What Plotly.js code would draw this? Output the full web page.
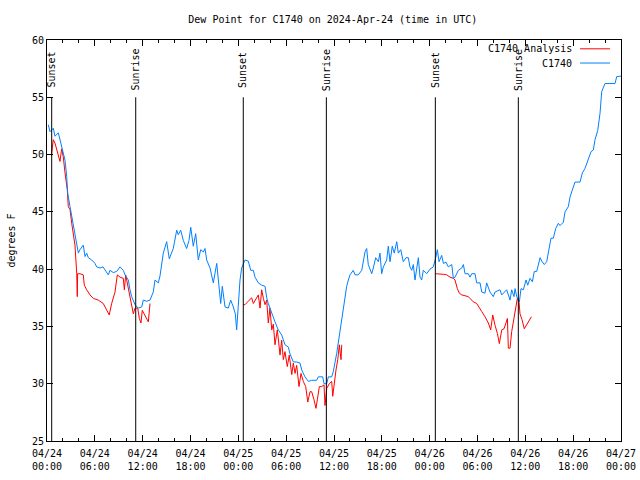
<!DOCTYPE html>
<html>
<head>
<meta charset="utf-8">
<script src="https://cdn.plot.ly/plotly-3.0.1.min.js"></script>
<style>html,body{margin:0;padding:0;background:#fff;}#chart{width:640px;height:480px;}</style>
</head>
<body>
<div id="chart"></div>
<script>
// Hours after 2024-04-24 00:00 UTC
const hoursBlue = [0.16,0.38,0.79,1.00,1.42,1.63,2.04,2.26,2.47,2.60,2.89,3.10,3.30,3.51,3.73,3.93,4.14,4.55,4.77,4.98,5.18,5.61,6.02,6.23,6.65,7.02,7.69,7.90,8.32,8.74,9.16,9.57,9.78,10.20,10.41,10.62,11.04,11.45,11.88,12.08,12.51,12.92,13.33,13.55,13.96,14.17,14.59,15.01,15.34,15.64,15.84,16.27,16.47,16.77,17.10,17.52,17.81,18.03,18.35,18.65,18.98,19.28,19.61,19.82,20.03,20.45,20.86,21.29,21.49,21.79,21.99,22.33,22.74,23.04,23.37,23.62,23.79,23.99,24.21,24.42,24.62,24.84,25.25,25.55,25.88,26.09,26.51,26.93,27.35,27.56,27.76,28.19,28.60,29.01,29.44,29.85,30.27,30.48,30.90,31.32,31.74,31.95,32.36,32.78,33.20,33.83,34.03,34.58,34.75,35.09,35.29,35.71,35.91,36.34,36.54,36.75,36.97,37.17,37.38,37.59,37.80,38.01,38.42,38.64,39.05,39.48,39.89,40.10,40.30,40.73,40.93,41.23,41.56,41.77,41.98,42.19,42.61,42.81,43.03,43.31,43.56,43.87,44.07,44.37,44.69,45.03,45.32,45.53,45.75,45.95,46.16,46.37,46.58,46.79,47.00,47.20,47.63,48.04,48.46,48.76,48.96,49.18,49.51,49.72,50.05,50.34,50.77,50.97,51.18,51.60,52.03,52.23,52.44,52.85,53.06,53.28,53.69,53.90,54.32,54.53,54.94,55.15,55.57,55.98,56.20,56.82,57.04,57.66,57.86,58.08,58.29,58.58,58.71,58.92,59.25,59.46,59.75,60.09,60.30,60.59,60.88,61.13,61.43,61.85,62.06,62.38,62.68,62.89,63.22,63.51,63.81,64.14,64.35,64.77,64.98,65.39,65.61,65.89,66.23,66.86,67.15,67.49,67.90,68.24,68.53,68.74,69.08,69.37,69.58,69.99,71.25,71.46,72.00];
const dewBlue = [52.6,52.0,52.3,51.6,51.9,51.3,50.25,49.5,48.1,46.6,45.45,44.6,44.0,42.8,42.0,41.4,41.7,42.1,41.1,41.4,41.0,40.8,40.5,40.2,40.1,40.2,39.5,39.9,39.7,39.8,40.2,39.9,39.5,39.05,38.2,37.6,36.9,36.6,36.7,37.3,37.2,37.3,38.0,39.05,38.8,39.4,41.4,42.4,40.9,41.4,41.8,43.4,43.0,43.4,42.5,41.8,42.5,43.65,42.0,43.1,40.8,41.7,41.5,41.8,40.8,40.1,38.8,40.5,39.3,37.0,38.5,36.7,36.6,37.3,36.7,36.1,34.7,36.7,39.05,40.1,40.5,40.8,40.7,39.9,39.9,39.3,38.8,38.6,38.5,37.5,37.0,36.1,35.4,34.7,34.25,33.4,33.2,32.6,31.9,31.9,31.8,31.2,30.6,30.2,30.3,30.3,30.6,30.6,30.0,30.0,30.6,30.6,31.05,32.65,33.6,34.4,35.4,36.3,37.6,38.5,39.05,39.5,39.9,39.5,39.5,39.9,41.5,41.8,40.4,39.6,40.1,41.0,40.65,41.4,39.6,40.2,40.8,42.0,40.65,42.0,41.4,42.4,41.4,41.7,40.65,41.0,41.0,40.2,39.9,40.4,39.05,40.2,41.0,39.3,39.05,39.9,39.6,40.0,40.2,41.0,41.7,40.65,41.2,40.5,40.6,40.2,40.4,39.2,39.3,39.9,40.1,40.4,39.6,39.6,39.3,39.6,39.6,38.8,38.8,38.0,37.9,38.8,38.0,37.6,38.0,38.2,37.75,38.2,37.75,37.3,38.2,37.6,38.3,37.6,37.15,38.3,38.2,39.05,38.6,39.2,38.9,39.8,39.8,41.0,40.7,40.4,40.65,41.5,42.7,42.7,43.55,44.0,43.8,44.1,45.0,45.45,46.3,46.9,47.6,47.6,48.4,48.8,49.5,50.25,50.4,51.3,52.1,53.6,55.5,56.2,56.2,56.8,56.85];

const hoursRed = [0.55,0.79,1.00,1.22,1.51,1.63,1.84,2.04,2.26,2.38,2.55,2.67,2.89,3.10,3.30,3.51,3.73,3.80,3.84,4.14,4.55,4.68,4.98,5.39,5.81,6.43,7.06,7.48,7.81,8.11,8.53,8.82,9.16,9.57,9.70,9.87,10.12,10.41,10.70,10.83,11.04,11.38,11.58,11.79,11.95,12.29,12.71,12.92,
  18.0,
  24.62,24.84,25.25,25.67,25.88,26.30,26.51,26.72,26.93,27.14,27.35,27.56,27.76,27.97,28.19,28.39,28.60,28.89,29.23,29.44,29.64,29.85,30.14,30.39,30.70,30.90,31.11,31.32,31.61,31.86,32.15,32.45,32.71,32.99,33.20,33.49,33.74,33.91,34.16,34.46,34.75,34.87,35.09,35.41,35.71,35.84,36.00,36.25,36.47,36.67,36.88,36.97,
  42.0,
  48.76,49.30,49.72,50.14,50.55,50.97,51.18,51.47,51.72,52.03,52.44,52.85,53.06,53.47,53.90,54.22,54.53,54.94,55.36,55.66,55.91,56.20,56.49,56.74,57.04,57.33,57.58,57.75,57.87,58.08,58.29,58.58,58.83,59.00,59.21,59.33,59.58,59.87,60.30,60.76];
const dewRed = [49.9,51.3,51.0,50.5,49.7,49.4,50.5,49.8,48.4,47.6,46.9,45.45,45.2,44.0,42.8,42.1,39.6,37.6,39.6,39.6,39.5,38.6,38.2,37.75,37.45,37.3,37.0,36.4,36.0,37.0,38.0,39.5,39.3,39.2,38.2,39.5,38.6,37.6,36.7,36.1,36.6,36.6,35.7,35.3,36.4,36.0,35.4,37.0,
  null,
  36.9,36.9,37.2,37.5,37.0,37.45,37.75,36.6,38.2,37.45,36.9,37.3,35.3,36.6,34.7,35.2,33.4,34.7,32.5,33.8,32.1,32.8,31.5,32.5,30.8,31.8,30.9,31.6,29.75,30.9,30.2,29.75,28.4,29.3,29.3,28.6,27.85,28.6,29.75,29.75,29.9,28.1,29.6,30.0,30.2,28.9,30.0,31.2,32.1,33.4,32.1,33.4,
  null,
  39.6,39.6,39.55,39.5,39.3,39.2,39.05,38.3,37.9,37.75,37.7,37.6,37.45,37.15,37.0,36.7,36.3,35.85,35.3,34.7,36.0,35.1,34.4,33.5,34.7,34.8,35.3,35.7,33.1,33.1,34.55,35.85,36.7,37.45,37.15,36.1,35.6,34.8,35.3,35.85];

const sunHours = [0.59, 11.13, 24.62, 35.04, 48.71, 59.12];
const sunLabels = ['Sunset','Sunrise','Sunset','Sunrise','Sunset','Sunrise'];

const seriesNames = ['C1740 Analysis', 'C1740'];
const seriesColors = ['#ff0000', '#0080ff'];

const BASE = Date.UTC(2024, 3, 24, 0, 0, 0);
function toDate(h) {
  return new Date(BASE + Math.round(h * 3600000)).toISOString().slice(0, 19).replace('T', ' ');
}

const FONT = 'DejaVu Sans Mono';

const traces = [
  {x: hoursRed.map(toDate), y: dewRed, type: 'scatter', mode: 'lines', name: seriesNames[0],
   line: {color: seriesColors[0], width: 1}, connectgaps: false, showlegend: false},
  {x: hoursBlue.map(toDate), y: dewBlue, type: 'scatter', mode: 'lines', name: seriesNames[1],
   line: {color: seriesColors[1], width: 1}, showlegend: false}
];

const shapes = sunHours.map(h => ({
  type: 'line', xref: 'x', yref: 'y', x0: toDate(h), x1: toDate(h), y0: 25, y1: 55,
  line: {color: '#000', width: 1}
}));
// manual gnuplot-style legend samples
const legendY = [0.978, 0.9426];
seriesNames.forEach((n, i) => {
  shapes.push({type: 'line', xref: 'paper', yref: 'paper', x0: 0.9286, x1: 0.9808,
    y0: legendY[i], y1: legendY[i], line: {color: seriesColors[i], width: 1}});
});

const annotations = sunHours.map((h, i) => ({
  x: toDate(h), y: 57.4, xref: 'x', yref: 'y', text: sunLabels[i], showarrow: false,
  textangle: -90, xanchor: 'center', yanchor: 'middle',
  font: {family: FONT, size: 10, color: '#000'}
}));
seriesNames.forEach((n, i) => {
  annotations.push({x: 0.918, y: legendY[i], xref: 'paper', yref: 'paper', text: n,
    showarrow: false, xanchor: 'right', yanchor: 'middle',
    font: {family: FONT, size: 10, color: '#000'}});
});

const layout = {
  width: 640, height: 480,
  margin: {l: 47, r: 19, t: 40, b: 39},
  paper_bgcolor: '#fff', plot_bgcolor: '#fff',
  font: {family: FONT, size: 10, color: '#000'},
  title: {text: 'Dew Point for C1740 on 2024-Apr-24 (time in UTC)', x: 0.52, xanchor: 'center',
          y: 0.96, yanchor: 'middle', font: {family: FONT, size: 10, color: '#000'}},
  xaxis: {
    type: 'date', range: [toDate(0), toDate(72)],
    tick0: toDate(0), dtick: 6 * 3600000, tickformat: '%m/%d<br>%H:%M',
    ticks: 'inside', ticklen: 6, tickcolor: '#000', tickwidth: 1, ticklabelstandoff: 3,
    minor: {dtick: 2 * 3600000, ticks: 'inside', ticklen: 3, tickcolor: '#000', showgrid: false},
    showgrid: false, zeroline: false, showline: true, linecolor: '#000', linewidth: 1, mirror: 'ticks',
    tickfont: {family: FONT, size: 10, color: '#000'}
  },
  yaxis: {
    range: [25, 60], dtick: 5, tick0: 25,
    ticks: 'inside', ticklen: 6, tickcolor: '#000', tickwidth: 1,
    showgrid: false, zeroline: false, showline: true, linecolor: '#000', linewidth: 1, mirror: 'ticks',
    tickfont: {family: FONT, size: 10, color: '#000'},
    title: {text: 'degrees F', font: {family: FONT, size: 10, color: '#000'}, standoff: 14}
  },
  shapes: shapes,
  annotations: annotations,
  showlegend: false
};

Plotly.newPlot('chart', traces, layout, {displayModeBar: false, staticPlot: true});
</script>
</body>
</html>
